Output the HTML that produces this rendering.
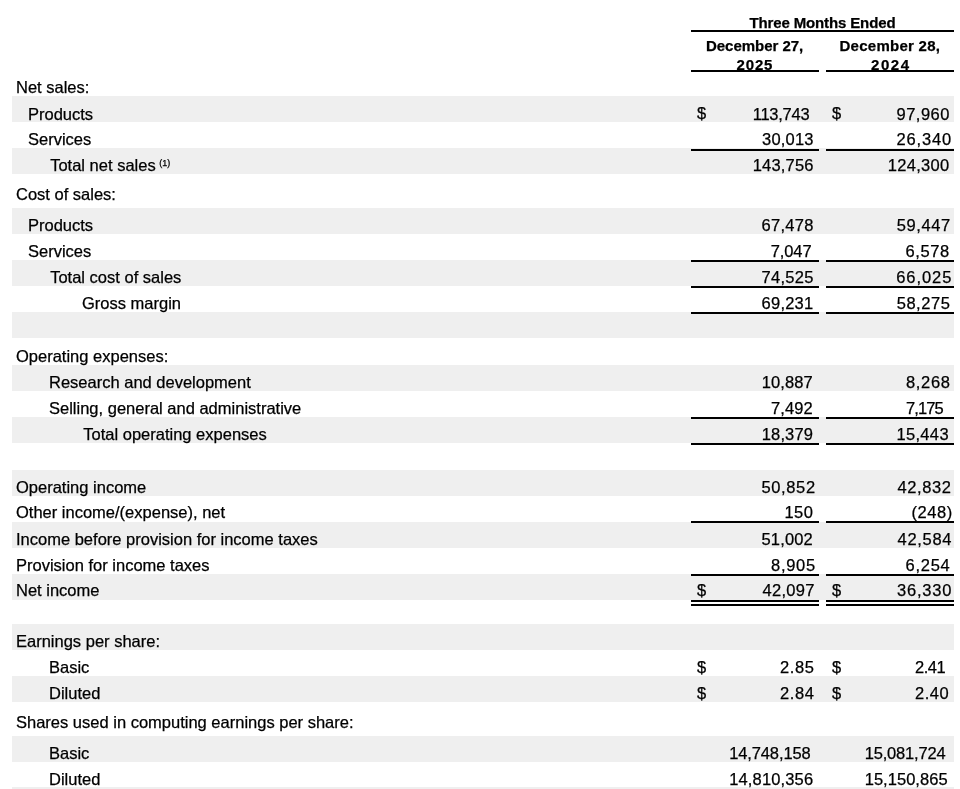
<!DOCTYPE html>
<html><head><meta charset="utf-8"><title>Condensed Consolidated Statements of Operations</title>
<style>
html,body{margin:0;padding:0;background:#fff;}
body{will-change:transform;-webkit-text-stroke:0.25px #000;width:960px;height:789px;position:relative;overflow:hidden;font-family:"Liberation Sans", Arial, Helvetica, sans-serif;color:#000;}
.s{position:absolute;left:12px;width:942px;background:#efefef;}
.l{position:absolute;background:#000;}
.t{position:absolute;white-space:nowrap;line-height:20px;font-size:16.5px;}
.h{position:absolute;white-space:nowrap;line-height:20px;font-size:15px;font-weight:700;}
.sup{position:absolute;white-space:nowrap;line-height:20px;font-size:9px;}
</style></head><body>

<div class="s" style="top:96px;height:26px"></div>
<div class="s" style="top:148px;height:26px"></div>
<div class="s" style="top:208px;height:26px"></div>
<div class="s" style="top:260px;height:26px"></div>
<div class="s" style="top:312px;height:26px"></div>
<div class="s" style="top:365px;height:26px"></div>
<div class="s" style="top:417px;height:26px"></div>
<div class="s" style="top:470px;height:26px"></div>
<div class="s" style="top:522px;height:26px"></div>
<div class="s" style="top:574px;height:26px"></div>
<div class="s" style="top:624px;height:26px"></div>
<div class="s" style="top:676px;height:26px"></div>
<div class="s" style="top:736px;height:26px"></div>
<div class="s" style="top:787px;height:2px"></div>
<div class="h" style="left:749.50px;top:13px;letter-spacing:-0.135px">Three Months Ended</div>
<div class="h" style="left:706.00px;top:36px;letter-spacing:-0.027px">December 27,</div>
<div class="h" style="left:736.60px;top:55px;letter-spacing:0.800px">2025</div>
<div class="h" style="left:839.50px;top:36px;letter-spacing:0.264px">December 28,</div>
<div class="h" style="left:871.00px;top:55px;letter-spacing:1.583px">2024</div>
<div class="t" style="left:16.00px;top:77px">Net sales:</div>
<div class="t" style="left:28.00px;top:104px">Products</div>
<div class="t" style="left:28.00px;top:129px">Services</div>
<div class="t" style="left:50.20px;top:155px">Total net sales</div>
<div class="t" style="left:16.00px;top:184px">Cost of sales:</div>
<div class="t" style="left:28.00px;top:215px">Products</div>
<div class="t" style="left:28.00px;top:241px">Services</div>
<div class="t" style="left:50.20px;top:267px">Total cost of sales</div>
<div class="t" style="left:82.00px;top:293px">Gross margin</div>
<div class="t" style="left:16.00px;top:346px">Operating expenses:</div>
<div class="t" style="left:49.00px;top:372px">Research and development</div>
<div class="t" style="left:49.00px;top:398px">Selling, general and administrative</div>
<div class="t" style="left:83.30px;top:424px">Total operating expenses</div>
<div class="t" style="left:16.00px;top:477px">Operating income</div>
<div class="t" style="left:16.00px;top:502px">Other income/(expense), net</div>
<div class="t" style="left:16.00px;top:529px">Income before provision for income taxes</div>
<div class="t" style="left:16.00px;top:555px">Provision for income taxes</div>
<div class="t" style="left:16.00px;top:580px">Net income</div>
<div class="t" style="left:16.00px;top:631px">Earnings per share:</div>
<div class="t" style="left:49.00px;top:657px">Basic</div>
<div class="t" style="left:49.00px;top:683px">Diluted</div>
<div class="t" style="left:16.00px;top:712px">Shares used in computing earnings per share:</div>
<div class="t" style="left:49.00px;top:743px">Basic</div>
<div class="t" style="left:49.00px;top:769px">Diluted</div>
<div class="sup" style="left:159.30px;top:153px">(1)</div>
<div class="t" style="left:752.70px;top:104px;letter-spacing:-0.250px">113,743</div>
<div class="t" style="left:896.60px;top:104px;letter-spacing:0.460px">97,960</div>
<div class="t" style="left:762.10px;top:129px;letter-spacing:0.180px">30,013</div>
<div class="t" style="left:896.60px;top:129px;letter-spacing:0.800px">26,340</div>
<div class="t" style="left:752.70px;top:155px;letter-spacing:0.183px">143,756</div>
<div class="t" style="left:887.75px;top:155px;letter-spacing:0.292px">124,300</div>
<div class="t" style="left:761.60px;top:215px;letter-spacing:0.260px">67,478</div>
<div class="t" style="left:896.70px;top:215px;letter-spacing:0.600px">59,447</div>
<div class="t" style="left:770.80px;top:241px;letter-spacing:-0.125px">7,047</div>
<div class="t" style="left:905.40px;top:241px;letter-spacing:0.625px">6,578</div>
<div class="t" style="left:761.60px;top:267px;letter-spacing:0.260px">74,525</div>
<div class="t" style="left:896.20px;top:267px;letter-spacing:0.940px">66,025</div>
<div class="t" style="left:761.60px;top:293px;letter-spacing:0.220px">69,231</div>
<div class="t" style="left:896.70px;top:293px;letter-spacing:0.540px">58,275</div>
<div class="t" style="left:761.80px;top:372px;letter-spacing:0.060px">10,887</div>
<div class="t" style="left:905.90px;top:372px;letter-spacing:0.700px">8,268</div>
<div class="t" style="left:770.90px;top:398px;letter-spacing:0.125px">7,492</div>
<div class="t" style="left:906.10px;top:398px;letter-spacing:-0.925px">7,175</div>
<div class="t" style="left:761.80px;top:424px;letter-spacing:0.120px">18,379</div>
<div class="t" style="left:896.40px;top:424px;letter-spacing:0.340px">15,443</div>
<div class="t" style="left:761.50px;top:477px;letter-spacing:0.620px">50,852</div>
<div class="t" style="left:897.50px;top:477px;letter-spacing:0.580px">42,832</div>
<div class="t" style="left:784.60px;top:502px;letter-spacing:0.350px">150</div>
<div class="t" style="left:911.60px;top:502px;letter-spacing:0.525px">(248)</div>
<div class="t" style="left:761.50px;top:529px;letter-spacing:0.160px">51,002</div>
<div class="t" style="left:897.50px;top:529px;letter-spacing:0.700px">42,584</div>
<div class="t" style="left:771.00px;top:555px;letter-spacing:0.725px">8,905</div>
<div class="t" style="left:905.60px;top:555px;letter-spacing:0.725px">6,254</div>
<div class="t" style="left:762.50px;top:580px;letter-spacing:0.300px">42,097</div>
<div class="t" style="left:897.00px;top:580px;letter-spacing:0.800px">36,330</div>
<div class="t" style="left:780.00px;top:657px;letter-spacing:0.600px">2.85</div>
<div class="t" style="left:915.00px;top:657px;letter-spacing:-0.467px">2.41</div>
<div class="t" style="left:780.00px;top:683px;letter-spacing:0.600px">2.84</div>
<div class="t" style="left:915.00px;top:683px;letter-spacing:0.500px">2.40</div>
<div class="t" style="left:729.20px;top:743px;letter-spacing:-0.122px">14,748,158</div>
<div class="t" style="left:864.70px;top:743px;letter-spacing:-0.189px">15,081,724</div>
<div class="t" style="left:729.20px;top:769px;letter-spacing:0.144px">14,810,356</div>
<div class="t" style="left:864.70px;top:769px;letter-spacing:0.033px">15,150,865</div>
<div class="t" style="left:697.00px;top:103px">$</div>
<div class="t" style="left:832.00px;top:103px">$</div>
<div class="t" style="left:697.00px;top:580px">$</div>
<div class="t" style="left:832.00px;top:580px">$</div>
<div class="t" style="left:697.00px;top:657px">$</div>
<div class="t" style="left:832.00px;top:657px">$</div>
<div class="t" style="left:697.00px;top:683px">$</div>
<div class="t" style="left:832.00px;top:683px">$</div>
<div class="l" style="left:691px;top:30px;width:263px;height:2px"></div>
<div class="l" style="left:691px;top:70px;width:128px;height:2px"></div>
<div class="l" style="left:826px;top:70px;width:128px;height:2px"></div>
<div class="l" style="left:691px;top:148.5px;width:128px;height:2px"></div>
<div class="l" style="left:826px;top:148.5px;width:128px;height:2px"></div>
<div class="l" style="left:691px;top:260.2px;width:128px;height:2px"></div>
<div class="l" style="left:826px;top:260.2px;width:128px;height:2px"></div>
<div class="l" style="left:691px;top:286px;width:128px;height:2px"></div>
<div class="l" style="left:826px;top:286px;width:128px;height:2px"></div>
<div class="l" style="left:691px;top:312.1px;width:128px;height:2px"></div>
<div class="l" style="left:826px;top:312.1px;width:128px;height:2px"></div>
<div class="l" style="left:691px;top:417.2px;width:128px;height:2px"></div>
<div class="l" style="left:826px;top:417.2px;width:128px;height:2px"></div>
<div class="l" style="left:691px;top:443.2px;width:128px;height:2px"></div>
<div class="l" style="left:826px;top:443.2px;width:128px;height:2px"></div>
<div class="l" style="left:691px;top:521.4px;width:128px;height:2px"></div>
<div class="l" style="left:826px;top:521.4px;width:128px;height:2px"></div>
<div class="l" style="left:691px;top:574.1px;width:128px;height:2px"></div>
<div class="l" style="left:826px;top:574.1px;width:128px;height:2px"></div>
<div class="l" style="left:691px;top:600.3px;width:128px;height:1.8px"></div>
<div class="l" style="left:826px;top:600.3px;width:128px;height:1.8px"></div>
<div class="l" style="left:691px;top:603.8px;width:128px;height:1.8px"></div>
<div class="l" style="left:826px;top:603.8px;width:128px;height:1.8px"></div>
</body></html>
